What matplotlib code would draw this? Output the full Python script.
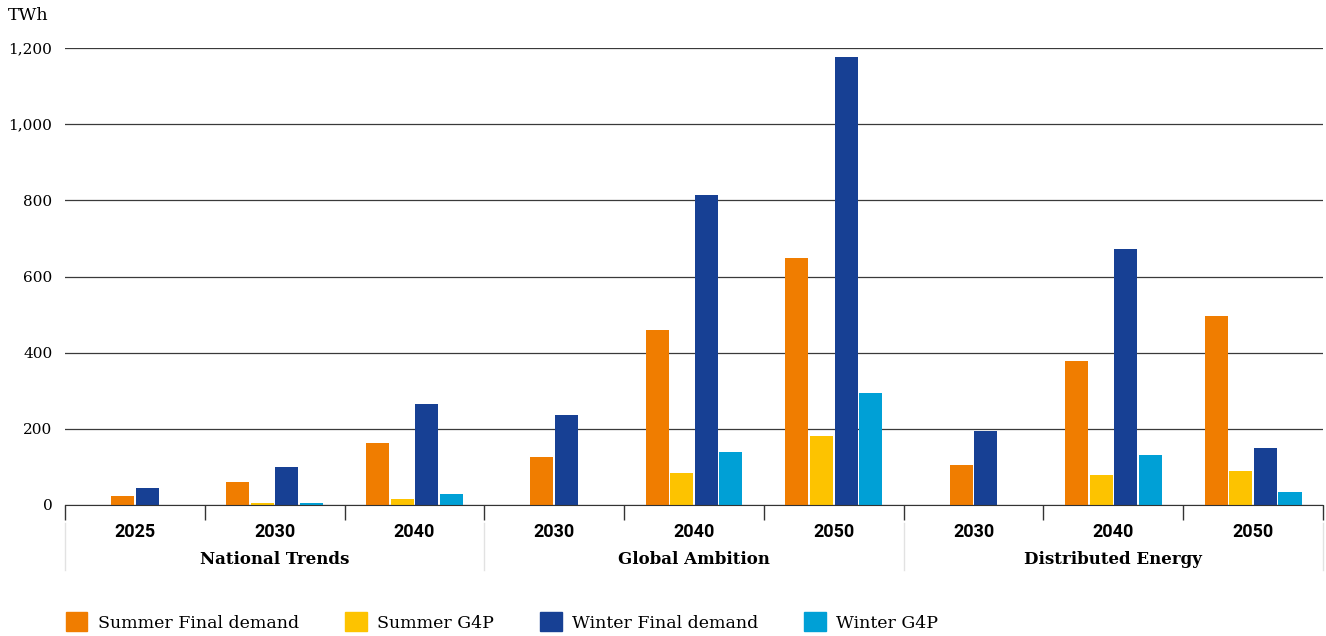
import numpy as np
import matplotlib
matplotlib.use("Agg")
from matplotlib import pyplot as plt
from matplotlib.patches import Patch
from matplotlib.lines import Line2D
from matplotlib.transforms import blended_transform_factory

years = ['2025', '2030', '2040', '2030', '2040', '2050', '2030', '2040', '2050']
scenarios = ['National Trends', 'Global Ambition', 'Distributed Energy']
scenario_sizes = [3, 3, 3]

series_names = ['Summer Final demand', 'Summer G4P', 'Winter Final demand', 'Winter G4P']
summer_final = [24, 61, 162, 127, 460, 649, 106, 379, 495]
summer_g4p = [np.nan, 4, 17, np.nan, 85, 182, np.nan, 80, 90]
winter_final = [45, 100, 266, 237, 815, 1176, 195, 673, 150]
winter_g4p = [np.nan, 6, 30, np.nan, 140, 295, np.nan, 130, 35]
colors = ['#F07D00', '#FDC300', '#174094', '#00A0D6']

all_series = [summer_final, summer_g4p, winter_final, winter_g4p]

serif = 'DejaVu Serif'

fig = plt.figure(figsize=(13.26, 6.36), dpi=100)
ax = fig.add_axes([65 / 1326, 1 - 505 / 636, (1323 - 65) / 1326, (505 - 48) / 636])

bar_w = 0.165
step = 0.176
# missing series are skipped, the remaining bars stay centred on the category
for i in range(len(years)):
    present = [k for k in range(4) if not np.isnan(all_series[k][i])]
    n = len(present)
    for j, k in enumerate(present):
        ax.bar(i + (j - (n - 1) / 2) * step, all_series[k][i], width=bar_w,
               color=colors[k], zorder=3)

ax.set_xlim(-0.5, len(years) - 0.5)
ax.set_ylim(0, 1200)
ax.set_yticks(range(0, 1201, 200))
ax.set_yticklabels([f'{v:,}' for v in range(0, 1201, 200)], fontfamily=serif, fontsize=11)
ax.tick_params(axis='y', length=0, pad=9)
ax.grid(axis='y', color='#3a3a3a', lw=0.9, zorder=0)
for s in ['top', 'right', 'left']:
    ax.spines[s].set_visible(False)
ax.spines['bottom'].set_color('#333333')
ax.spines['bottom'].set_zorder(4)

ax.set_xticks(range(len(years)))
ax.set_xticklabels(years, fontfamily='Roboto', fontweight='bold', fontsize=13)
ax.tick_params(axis='x', length=0, pad=13)
ax.set_xticks(np.arange(-0.5, len(years), 1), minor=True)
ax.tick_params(axis='x', which='minor', length=11, color='#333333', width=1)

trans = blended_transform_factory(ax.transData, ax.transAxes)
start = 0
bounds = [-0.5]
for name, size in zip(scenarios, scenario_sizes):
    mid = start + (size - 1) / 2
    ax.text(mid, -0.12, name, transform=trans, ha='center', va='center',
            fontfamily=serif, fontweight='bold', fontsize=12)
    start += size
    bounds.append(start - 0.5)
for b in bounds:
    ax.add_line(Line2D([b, b], [-0.04, -0.143], transform=trans, color='#e2e2e2',
                       lw=1, clip_on=False))

fig.text(8 / 1326, 1 - 15 / 636, 'TWh', fontfamily=serif, fontsize=12.5, va='center', ha='left')

handles = [Patch(color=c, label=n) for c, n in zip(colors, series_names)]
fig.legend(handles=handles, loc='center left', bbox_to_anchor=(50 / 1326, 1 - 622 / 636),
           ncol=4, frameon=False, prop={'family': serif, 'size': 12.5},
           handlelength=1.25, handleheight=1.25, handletextpad=0.6, columnspacing=2.65)

fig.savefig('out.png', dpi=100)
